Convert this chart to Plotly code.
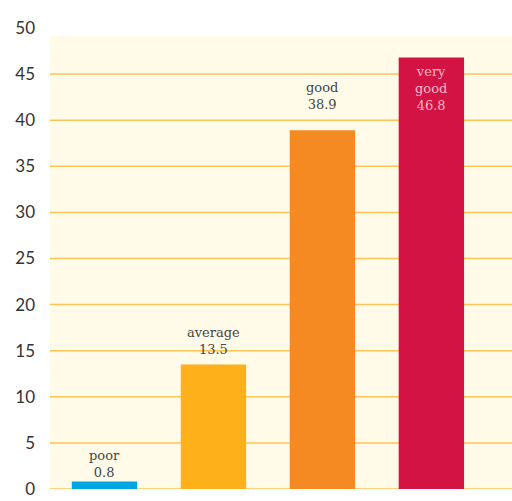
import plotly.graph_objects as go

# Survey results by rating
categories = ["poor", "average", "good", "very good"]
values = [0.8, 13.5, 38.9, 46.8]
colors = ["#00a6e2", "#fdb01a", "#f58a22", "#d21343"]
label_lines = [["poor"], ["average"], ["good"], ["very", "good"]]
y_ticks = [0, 5, 10, 15, 20, 25, 30, 35, 40, 45, 50]

x_pos = list(range(len(categories)))

fig = go.Figure()
fig.add_trace(go.Bar(
    x=x_pos, y=values, width=0.6,
    marker=dict(color=colors, line=dict(width=0)),
    hoverinfo="skip",
))

# Cream panel behind the bars
fig.add_shape(type="rect", xref="paper", yref="y", x0=0, x1=1, y0=0, y1=49.1,
              fillcolor="#fffbe8", line=dict(width=0), layer="below")

# Horizontal rules at each tick below the top
for t in y_ticks[:-1]:
    fig.add_shape(type="line", xref="paper", yref="y", x0=0, x1=1, y0=t, y1=t,
                  line=dict(color="#fcc55a", width=1.5), layer="below")

label_font = dict(family="DejaVu Serif", size=13, color="#444444")
yshifts = [0, 6, 16, None]
for i, (v, lines) in enumerate(zip(values, label_lines)):
    text = "<br>".join(lines + [f"{v:.1f}"])
    if yshifts[i] is None:
        fig.add_annotation(x=x_pos[i], y=v, text=text, showarrow=False,
                           yanchor="top", yshift=-4,
                           font=dict(family="DejaVu Serif", size=13, color="#f6b8c8"))
    else:
        fig.add_annotation(x=x_pos[i], y=v, text=text, showarrow=False,
                           yanchor="bottom", yshift=yshifts[i], font=label_font)

fig.update_layout(
    width=512, height=501,
    margin=dict(l=50, r=0, t=28, b=12),
    paper_bgcolor="white", plot_bgcolor="rgba(0,0,0,0)",
    showlegend=False, bargap=0.4,
    xaxis=dict(range=[-0.5, 3.74], showticklabels=False, showgrid=False,
               zeroline=False, showline=False, fixedrange=True),
    yaxis=dict(range=[0, 50], tickvals=y_ticks, showgrid=False, zeroline=False,
               showline=False, ticklabelstandoff=14,
               tickfont=dict(family="Lato", size=17, color="#333333")),
)

fig.write_html("out.html")
